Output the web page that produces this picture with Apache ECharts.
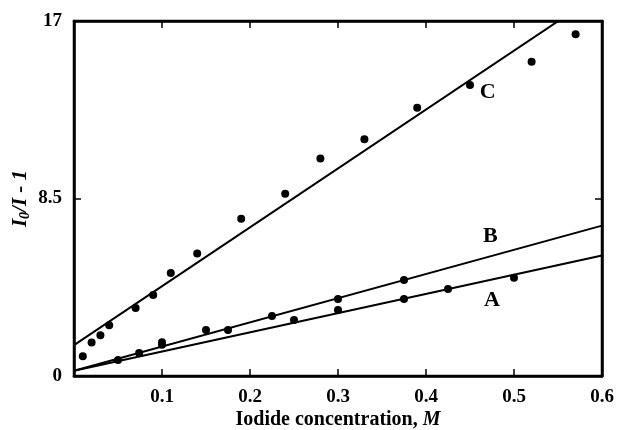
<!DOCTYPE html>
<html><head><meta charset="utf-8">
<script src="https://cdn.jsdelivr.net/npm/echarts@6/dist/echarts.min.js"></script>
<style>html,body{margin:0;padding:0;background:#fff}#c{width:617px;height:430px}</style>
</head><body><div id="c"></div>
<script>
// Data
const xTicks = [0, 0.1, 0.2, 0.3, 0.4, 0.5, 0.6];
const yTicks = [0, 8.5, 17];
const seriesA = [[0.05,0.77],[0.074,1.1],[0.1,1.5],[0.25,2.68],[0.3,3.16],[0.375,3.69],[0.425,4.17],[0.5,4.7]];
const seriesB = [[0.1,1.62],[0.15,2.2],[0.175,2.2],[0.225,2.87],[0.3,3.69],[0.375,4.6]];
const seriesC = [[0.01,0.95],[0.02,1.6],[0.03,1.95],[0.04,2.43],[0.07,3.26],[0.09,3.88],[0.11,4.93],[0.14,5.87],[0.19,7.53],[0.24,8.73],[0.28,10.41],[0.33,11.34],[0.39,12.84],[0.45,13.94],[0.52,15.05],[0.57,16.36]];
const fitA = [[0,0.25],[0.6,5.77]];
const fitB = [[0,0.25],[0.6,7.2]];
const fitC = [[0,1.48],[0.6,18.4]];
const curveLabels = [{name:'A', value:[0.475,3.64]},{name:'B', value:[0.473,6.7]},{name:'C', value:[0.47,13.6]}];

const FONT = '"Liberation Serif", "DejaVu Serif", serif';
const chart = echarts.init(document.getElementById('c'), null, {renderer:'canvas'});
const axLine = {show:true, onZero:false, lineStyle:{color:'#000', width:2.5}};
const tick = {show:true, inside:true, length:7, lineStyle:{color:'#000', width:1.5}};
const scat = (d) => ({type:'scatter', data:d, symbolSize:8, itemStyle:{color:'#000', opacity:1}, z:3});
const fit = (d) => ({type:'line', data:d, symbol:'none', clip:true, lineStyle:{color:'#000', width:2, opacity:1}, z:2});
chart.setOption({
  animation:false,
  backgroundColor:'#fff',
  grid:{left:74, right:15, top:21, bottom:54, containLabel:false, outerBoundsMode:'none',
        show:true, borderColor:'#000', borderWidth:2.5, backgroundColor:'transparent'},
  xAxis:[{
    type:'value', min:xTicks[0], max:xTicks[xTicks.length-1], interval:0.1,
    axisLine:axLine, splitLine:{show:false}, axisTick:tick,
    axisLabel:{margin:12, color:'#000', fontFamily:FONT, fontWeight:'bold', fontSize:19,
      formatter:(v)=> v===0 ? '' : String(v)},
    name:'{b|Iodide concentration, }{i|M}', nameLocation:'middle', nameGap:34, nameMoveOverlap:false,
    nameTextStyle:{rich:{b:{fontFamily:FONT, fontWeight:'bold', fontSize:20, color:'#000'},
                         i:{fontFamily:FONT, fontWeight:'bold', fontStyle:'italic', fontSize:20, color:'#000'}}}
  },{
    type:'value', position:'top', min:0, max:0.6, interval:0.1,
    axisLine:axLine, splitLine:{show:false}, axisLabel:{show:false}, axisTick:tick
  }],
  yAxis:[{
    type:'value', min:yTicks[0], max:yTicks[yTicks.length-1], interval:8.5,
    axisLine:axLine, splitLine:{show:false}, axisTick:tick,
    axisLabel:{margin:12, color:'#000', fontFamily:FONT, fontWeight:'bold', fontSize:19},
    name:'{i|I}{s|0}{i|/I - 1}', nameLocation:'middle', nameGap:42, nameRotate:90, nameMoveOverlap:false,
    nameTextStyle:{rich:{
      i:{fontFamily:FONT, fontWeight:'bold', fontStyle:'italic', fontSize:21, color:'#000'},
      s:{fontFamily:FONT, fontWeight:'bold', fontStyle:'italic', fontSize:14, color:'#000', verticalAlign:'bottom', padding:[9,0,0,0]}}}
  },{
    type:'value', position:'right', min:0, max:17, interval:8.5,
    axisLine:axLine, splitLine:{show:false}, axisLabel:{show:false}, axisTick:tick
  }],
  series:[
    fit(fitA), fit(fitB), fit(fitC),
    scat(seriesA), scat(seriesB), scat(seriesC),
    {type:'scatter', xAxisIndex:1, yAxisIndex:1, data:[], silent:true},
    {type:'scatter', data:curveLabels, symbolSize:0, silent:true, itemStyle:{opacity:1},
     label:{show:true, position:'inside', formatter:(p)=>p.name, color:'#000',
       fontFamily:FONT, fontWeight:'bold', fontSize:22}}
  ]
});
</script></body></html>
